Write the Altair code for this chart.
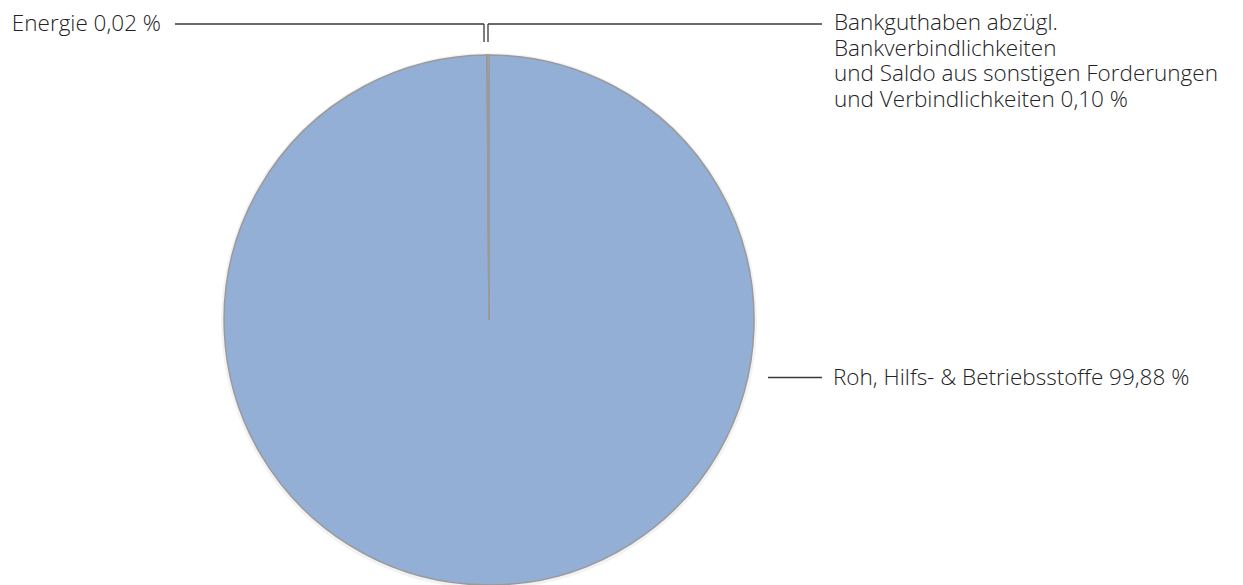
import altair as alt
import pandas as pd

# ---- data ----
categories = [
    "Roh, Hilfs- & Betriebsstoffe",
    "Energie",
    "Bankguthaben abzügl. Bankverbindlichkeiten und Saldo aus sonstigen Forderungen und Verbindlichkeiten",
]
shares = [99.88, 0.02, 0.10]
slice_order = [0, 1, 2]
slice_colors = ["#93afd6", "#c8d6ea", "#c8d6ea"]

label_texts = [
    "Energie 0,02 %",
    "Bankguthaben abzügl.",
    "Bankverbindlichkeiten",
    "und Saldo aus sonstigen Forderungen",
    "und Verbindlichkeiten 0,10 %",
    "Roh, Hilfs- & Betriebsstoffe 99,88 %",
]

# ---- annotation layout (chart pixel units) ----
W, H = 1227, 577
CX, CY, R = 481, 312, 265
label_x = [153, 826, 826, 826, 826, 825]
label_y = [16, 15, 40.5, 66, 91.5, 369.5]
label_align = ["right", "left", "left", "left", "left", "left"]

seg_x = [167, 476, 480, 480, 760]
seg_x2 = [476, 476, 480, 814, 814]
seg_y = [16, 16, 34, 16, 369.5]
seg_y2 = [16, 34, 16, 16, 369.5]

pie_df = pd.DataFrame({"cat": categories, "share": shares, "ord": slice_order})
lab_df = pd.DataFrame({"t": label_texts, "x": label_x, "y": label_y, "al": label_align})
seg_df = pd.DataFrame({"x": seg_x, "x2": seg_x2, "y": seg_y, "y2": seg_y2})

xs = alt.Scale(domain=[0, W], range=[0, W], nice=False, zero=False)
ys = alt.Scale(domain=[0, H], range=[0, H], nice=False, zero=False)

shadow = alt.Chart(pie_df).mark_arc(radius=268, color="#000000", opacity=0.05).encode(
    theta=alt.Theta("share:Q", stack=True),
    order=alt.Order("ord:Q"),
    x=alt.value(CX), y=alt.value(CY + 1),
)

pie = alt.Chart(pie_df).mark_arc(radius=R, stroke="#9a9a9a", strokeWidth=1.5).encode(
    theta=alt.Theta("share:Q", stack=True),
    order=alt.Order("ord:Q"),
    color=alt.Color("cat:N", scale=alt.Scale(domain=categories, range=slice_colors), legend=None),
    x=alt.value(CX), y=alt.value(CY),
)

rules = alt.Chart(seg_df).mark_rule(color="#3a3a3a", strokeWidth=1.3).encode(
    x=alt.X("x:Q", scale=xs, axis=None),
    x2="x2:Q",
    y=alt.Y("y:Q", scale=ys, axis=None),
    y2="y2:Q",
)

def text_layer(align):
    return alt.Chart(lab_df).transform_filter(alt.datum.al == align).mark_text(
        align=align, baseline="middle", font="Open Sans", fontSize=22.5, fontWeight=300, color="#222222"
    ).encode(
        x=alt.X("x:Q", scale=xs, axis=None),
        y=alt.Y("y:Q", scale=ys, axis=None),
        text="t:N",
    )

chart = alt.layer(shadow, pie, rules, text_layer("right"), text_layer("left")).properties(
    width=W, height=H, autosize=alt.AutoSizeParams(type="none"), padding=0
).configure_view(stroke=None)

chart.save("out.html", embed_options={"renderer": "svg", "actions": False})
